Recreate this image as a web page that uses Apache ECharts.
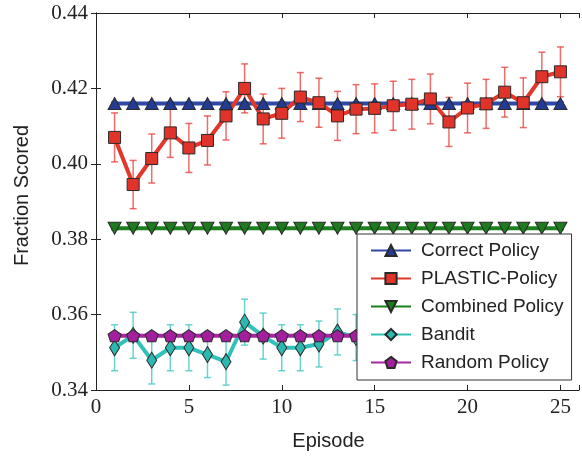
<!DOCTYPE html>
<html>
<head>
<meta charset="utf-8">
<script src="https://cdn.jsdelivr.net/npm/echarts@6/dist/echarts.min.js"></script>
<style>
  html, body { margin: 0; padding: 0; background: #fff; }
  #chart { width: 582px; height: 456px; }
</style>
</head>
<body>
<div id="chart"></div>
<script>
// data
const episodes = [1, 2, 3, 4, 5, 6, 7, 8, 9, 10, 11, 12, 13, 14, 15, 16, 17, 18, 19, 20, 21, 22, 23, 24, 25];

const correct = [0.416, 0.416, 0.416, 0.416, 0.416, 0.416, 0.416, 0.416, 0.416, 0.416, 0.416, 0.416, 0.416,
  0.416, 0.416, 0.416, 0.416, 0.416, 0.416, 0.416, 0.416, 0.416, 0.416, 0.416, 0.416];
const correctErr = [0.0004, 0.0004, 0.0004, 0.0004, 0.0004, 0.0004, 0.0004, 0.0004, 0.0004, 0.0004, 0.0004, 0.0004, 0.0004,
  0.0004, 0.0004, 0.0004, 0.0004, 0.0004, 0.0004, 0.0004, 0.0004, 0.0004, 0.0004, 0.0004, 0.0004];

const plastic = [0.4070, 0.3945, 0.4014, 0.4082, 0.4042, 0.4062, 0.4127, 0.4200, 0.4119, 0.4134, 0.4177, 0.4162, 0.4127,
  0.4145, 0.4147, 0.4154, 0.4158, 0.4172, 0.4111, 0.4148, 0.4159, 0.4190, 0.4162, 0.4231, 0.4244];
const plasticErr = [0.0065, 0.0064, 0.0065, 0.0065, 0.0065, 0.0065, 0.0064, 0.0065, 0.0066, 0.0066, 0.0065, 0.0065, 0.0065,
  0.0065, 0.0065, 0.0065, 0.0066, 0.0066, 0.0065, 0.0066, 0.0065, 0.0066, 0.0066, 0.0065, 0.0066];

const combined = [0.3829, 0.3829, 0.3829, 0.3829, 0.3829, 0.3829, 0.3829, 0.3829, 0.3829, 0.3829, 0.3829, 0.3829, 0.3829,
  0.3829, 0.3829, 0.3829, 0.3829, 0.3829, 0.3829, 0.3829, 0.3829, 0.3829, 0.3829, 0.3829, 0.3829];
const combinedErr = [0.0004, 0.0004, 0.0004, 0.0004, 0.0004, 0.0004, 0.0004, 0.0004, 0.0004, 0.0004, 0.0004, 0.0004, 0.0004,
  0.0004, 0.0004, 0.0004, 0.0004, 0.0004, 0.0004, 0.0004, 0.0004, 0.0004, 0.0004, 0.0004, 0.0004];

const bandit = [0.3512, 0.3545, 0.3479, 0.3512, 0.3512, 0.3494, 0.3475, 0.3580, 0.3543, 0.3512, 0.3512, 0.3522, 0.3554,
  0.3539, 0.3525, 0.3518, 0.3530, 0.3522, 0.3510, 0.3528, 0.3535, 0.3520, 0.3515, 0.3530, 0.3525];
const banditErr = [0.0061, 0.0061, 0.0063, 0.0061, 0.0061, 0.0061, 0.0062, 0.0061, 0.0061, 0.0061, 0.0061, 0.0061, 0.0061,
  0.0061, 0.0061, 0.0061, 0.0061, 0.0061, 0.0061, 0.0061, 0.0061, 0.0061, 0.0061, 0.0061, 0.0061];

const randomPol = [0.3544, 0.3544, 0.3544, 0.3544, 0.3544, 0.3544, 0.3544, 0.3544, 0.3544, 0.3544, 0.3544, 0.3544, 0.3544,
  0.3544, 0.3544, 0.3544, 0.3544, 0.3544, 0.3544, 0.3544, 0.3544, 0.3544, 0.3544, 0.3544, 0.3544];
const randomErr = [0.0004, 0.0004, 0.0004, 0.0004, 0.0004, 0.0004, 0.0004, 0.0004, 0.0004, 0.0004, 0.0004, 0.0004, 0.0004,
  0.0004, 0.0004, 0.0004, 0.0004, 0.0004, 0.0004, 0.0004, 0.0004, 0.0004, 0.0004, 0.0004, 0.0004];

const yTicks = [0.34, 0.36, 0.38, 0.40, 0.42, 0.44];
const xTicks = [0, 5, 10, 15, 20, 25];

const pentagon = 'path://M0,-10 L9.51,-3.09 L5.88,8.09 L-5.88,8.09 L-9.51,-3.09 Z';

function pairs(vals) {
  return episodes.map((e, i) => [e, vals[i]]);
}

function errBars(name, vals, errs, color) {
  return {
    name: name,
    type: 'custom',
    z: 1,
    silent: true,
    data: episodes.map((e, i) => [e, vals[i] - errs[i], vals[i] + errs[i]]),
    renderItem: function (params, api) {
      const lo = api.coord([api.value(0), api.value(1)]);
      const hi = api.coord([api.value(0), api.value(2)]);
      const w = 3.5;
      const st = { stroke: color, lineWidth: 1.5 };
      return {
        type: 'group',
        children: [
          { type: 'line', shape: { x1: lo[0], y1: lo[1], x2: hi[0], y2: hi[1] }, style: st },
          { type: 'line', shape: { x1: lo[0] - w, y1: lo[1], x2: lo[0] + w, y2: lo[1] }, style: st },
          { type: 'line', shape: { x1: hi[0] - w, y1: hi[1], x2: hi[0] + w, y2: hi[1] }, style: st }
        ]
      };
    }
  };
}

function lineSeries(name, vals, lineColor, fill, symbol, size, rotate) {
  return {
    name: name,
    type: 'line',
    z: 3,
    data: pairs(vals),
    symbol: symbol,
    symbolSize: size,
    symbolRotate: rotate || 0,
    showAllSymbol: true,
    lineStyle: { color: lineColor, width: 4 },
    itemStyle: { color: fill, borderColor: '#2a2a2a', borderWidth: 1 }
  };
}

const chart = echarts.init(document.getElementById('chart'));

const axisLine = { show: true, lineStyle: { color: '#222', width: 1 } };

chart.setOption({
  animation: false,
  backgroundColor: '#fff',
  grid: { left: 96, top: 13, width: 487, height: 378 },
  legend: {
    data: ['Correct Policy', 'PLASTIC-Policy', 'Combined Policy', 'Bandit', 'Random Policy'],
    orient: 'vertical',
    left: 357,
    top: 234,
    padding: [7, 8, 8, 13],
    itemWidth: 40,
    itemHeight: 14,
    itemGap: 9,
    backgroundColor: '#fff',
    borderColor: '#333',
    borderWidth: 1,
    textStyle: { fontFamily: 'Liberation Sans', fontSize: 19, color: '#222', padding: [0, 0, 0, 5] }
  },
  xAxis: [{
    type: 'value',
    min: 0,
    max: 26,
    interval: 5,
    name: 'Episode',
    nameLocation: 'middle',
    nameGap: 41,
    nameTextStyle: { fontFamily: 'Liberation Sans', fontSize: 20, color: '#222', padding: [0, 18, 0, 0] },
    axisLine: axisLine,
    axisTick: { inside: true, length: 5, lineStyle: { color: '#222' } },
    axisLabel: {
      fontFamily: 'Liberation Serif', fontSize: 21, color: '#222', margin: 7,
      formatter: v => (xTicks.indexOf(v) >= 0 ? String(v) : '')
    },
    splitLine: { show: false }
  }, {
    type: 'value',
    position: 'top',
    min: 0,
    max: 26,
    interval: 5,
    axisLine: axisLine,
    axisTick: { inside: true, length: 5, lineStyle: { color: '#222' } },
    axisLabel: { show: false },
    splitLine: { show: false }
  }],
  yAxis: [{
    type: 'value',
    min: 0.34,
    max: 0.44,
    interval: 0.02,
    name: 'Fraction Scored',
    nameLocation: 'middle',
    nameGap: 64,
    nameTextStyle: { fontFamily: 'Liberation Sans', fontSize: 20, color: '#222', padding: [0, 0, 0, 12] },
    axisLine: axisLine,
    axisTick: { inside: true, length: 5, lineStyle: { color: '#222' } },
    axisLabel: {
      fontFamily: 'Liberation Serif', fontSize: 21, color: '#222', margin: 8,
      formatter: v => v.toFixed(2)
    },
    splitLine: { show: false }
  }, {
    type: 'value',
    position: 'right',
    min: 0.34,
    max: 0.44,
    interval: 0.02,
    axisLine: axisLine,
    axisTick: { inside: true, length: 5, lineStyle: { color: '#222' } },
    axisLabel: { show: false },
    splitLine: { show: false }
  }],
  series: [
    errBars('Correct err', correct, correctErr, 'rgba(60,80,180,0.8)'),
    errBars('PLASTIC err', plastic, plasticErr, 'rgba(232,60,55,0.75)'),
    errBars('Combined err', combined, combinedErr, 'rgba(40,140,40,0.8)'),
    errBars('Bandit err', bandit, banditErr, 'rgba(70,200,195,0.8)'),
    errBars('Random err', randomPol, randomErr, 'rgba(180,50,175,0.8)'),
    lineSeries('Correct Policy', correct, '#2f48a6', '#233b94', 'triangle', [13, 12]),
    lineSeries('PLASTIC-Policy', plastic, '#e2372b', '#e0332a', 'rect', [12, 12]),
    lineSeries('Combined Policy', combined, '#1c801c', '#1d7a1d', 'triangle', [13, 12], 180),
    lineSeries('Bandit', bandit, '#33c0b9', '#2cb8b0', 'diamond', [10, 16]),
    lineSeries('Random Policy', randomPol, '#a3279d', '#a41f9d', pentagon, [13, 12])
  ]
});
</script>
</body>
</html>
